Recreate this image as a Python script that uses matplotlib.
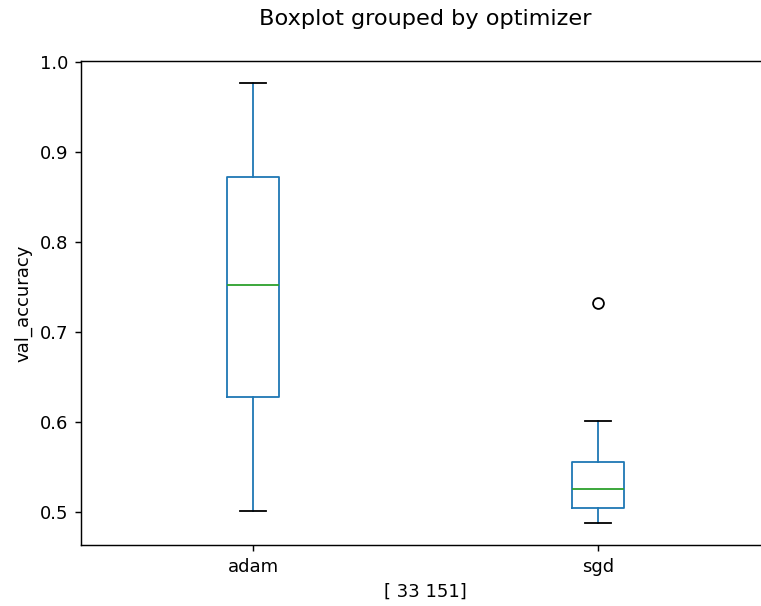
import matplotlib
matplotlib.use("Agg")
import matplotlib.pyplot as plt

# summary statistics of val_accuracy per optimizer
optimizers = ["adam", "sgd"]
whisker_low = [0.501, 0.488]
q1 = [0.628, 0.505]
median = [0.753, 0.526]
q3 = [0.872, 0.556]
whisker_high = [0.977, 0.601]
outliers = [[], [0.7325]]
group_sizes = [33, 151]

stats = []
for i, name in enumerate(optimizers):
    stats.append({
        "label": name,
        "whislo": whisker_low[i],
        "q1": q1[i],
        "med": median[i],
        "q3": q3[i],
        "whishi": whisker_high[i],
        "fliers": outliers[i],
    })

DPI = 130
fig = plt.figure(figsize=(761 / DPI, 606 / DPI), dpi=DPI)
ax = fig.add_axes([81 / 761, 61 / 606, 689 / 761, 484 / 606])

ax.bxp(
    stats,
    widths=0.15,
    boxprops=dict(color="C0"),
    whiskerprops=dict(color="C0"),
    medianprops=dict(color="C2"),
    capprops=dict(color="k"),
    flierprops=dict(marker="o", markerfacecolor="none", markeredgecolor="k"),
)
# the right edge of the axes falls outside the figure
ax.spines["right"].set_visible(False)

ax.set_ylabel("val_accuracy")
ax.set_xlabel("[ " + " ".join(str(n) for n in group_sizes) + "]")
fig.suptitle("Boxplot grouped by optimizer", x=425 / 761, y=1 - 9 / 606,
             va="top", fontsize=12.4)

fig.savefig("out.png", dpi=DPI)
